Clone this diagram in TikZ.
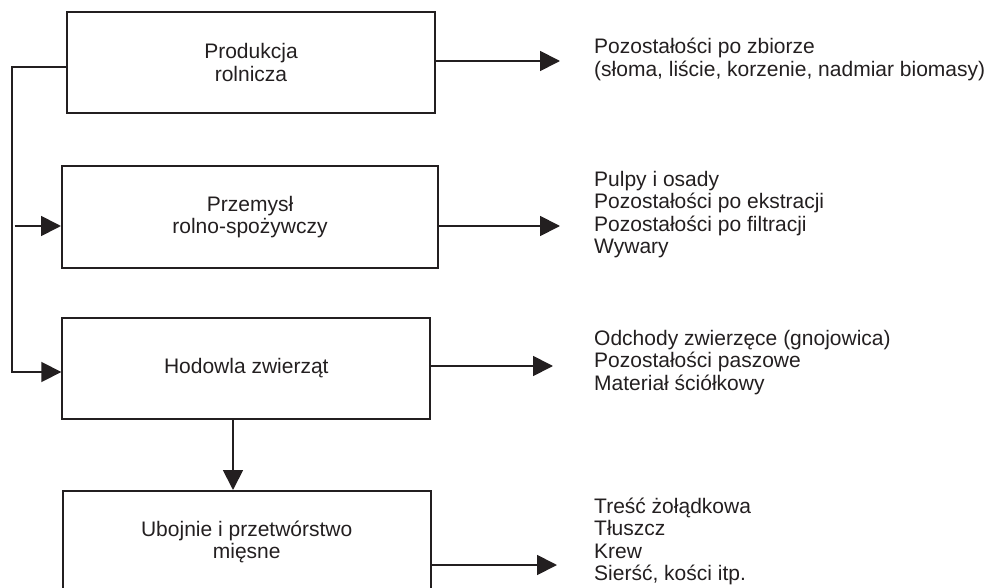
\documentclass[tikz,border=0pt]{standalone}
\usepackage{fontspec}
\setmainfont{Liberation Sans}
\usetikzlibrary{arrows.meta}
\definecolor{ink}{HTML}{231F20}
\tikzset{
  stagebox/.style={draw=ink, line width=2pt, inner sep=0pt, align=center,
    text=ink, font=\fontsize{21}{22.5}\selectfont},
  outtext/.style={anchor=base west, inner sep=0pt, text=ink,
    font=\fontsize{21}{22.5}\selectfont},
  flow/.style={draw=ink, line width=1.8pt,
    -{Triangle[length=20pt,width=20pt]}},
  plain/.style={draw=ink, line width=1.8pt}
}
\newcommand{\outlines}[1]{\begin{tabular}[t]{@{}l@{}}#1\end{tabular}}
\begin{document}
\begin{tikzpicture}[x=1pt,y=-1pt]
\useasboundingbox (0,0) rectangle (990,588);
\clip (0,0) rectangle (990,588);
% boxes
\node[stagebox, minimum width=368pt, minimum height=101.5pt] (b1) at (251,62.3) {Produkcja\\rolnicza};
\node[stagebox, minimum width=376pt, minimum height=102pt] (b2) at (250,217) {Przemysł\\rolno-spożywczy};
\node[stagebox, minimum width=368pt, minimum height=101pt] (b3) at (246.3,368.5) {Hodowla zwierząt};
\node[stagebox, minimum width=368pt, minimum height=102pt] (b4) at (246.7,542) {Ubojnie i przetwórstwo\\mięsne};
% output texts
\node[outtext] (t1) at (594,54) {\outlines{Pozostałości po zbiorze\\(słoma, liście, korzenie, nadmiar biomasy)}};
\node[outtext] (t2) at (594,186) {\outlines{Pulpy i osady\\Pozostałości po ekstracji\\Pozostałości po filtracji\\Wywary}};
\node[outtext] (t3) at (594,345) {\outlines{Odchody zwierzęce (gnojowica)\\Pozostałości paszowe\\Materiał ściółkowy}};
\node[outtext] (t4) at (594,513) {\outlines{Treść żołądkowa\\Tłuszcz\\Krew\\Sierść, kości itp.}};
% arrow end coordinates
\coordinate (e1) at (560,61);
\coordinate (e2) at (560,226);
\coordinate (e3) at (553,366);
\coordinate (e4) at (557,565);
\coordinate (s2) at (14.5,226);
\coordinate (v3) at (233,419.3);
% right arrows
\draw[flow] (b1.east |- e1) -- (e1);
\draw[flow] (b2.east |- e2) -- (e2);
\draw[flow] (b3.east |- e3) -- (e3);
\draw[flow] (b4.east |- e4) -- (e4);
% left bracket
\draw[flow] (b1.west |- 0,67) -- (12,67) -- (12,372) -- (b3.west |- 0,372);
\draw[flow] (s2) -- (b2.west |- s2);
% down arrow
\draw[flow] (v3) -- (b4.north -| v3);
\end{tikzpicture}
\end{document}
